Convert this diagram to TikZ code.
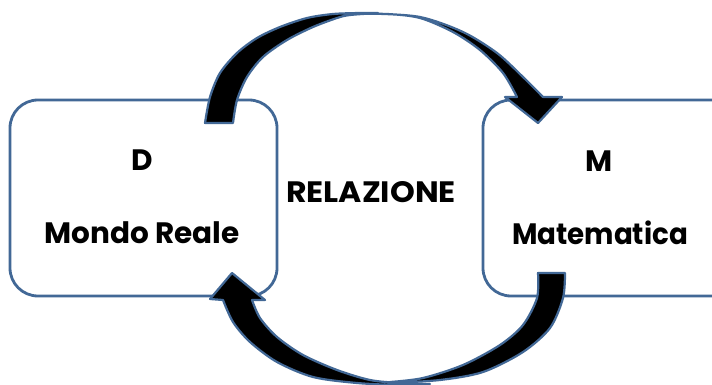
\documentclass[tikz,border=0pt]{standalone}
\usepackage{fontspec}
\setmainfont{Poppins}
\definecolor{bord}{RGB}{66,104,150}
\tikzset{
  box/.style={draw=bord, line width=2.8pt, rounded corners=28pt, fill=white},
  lbl/.style={font=\fontsize{29.5}{31}\selectfont\bfseries, text=black, inner sep=0pt, anchor=center},
  bigarrow/.style={fill=black, draw=bord, line width=2.2pt, line join=round}
}
\begin{document}
\begin{tikzpicture}[x=1pt,y=-1pt]
\useasboundingbox (0,0) rectangle (712,385);
\clip (0,0) rectangle (712,385);
\fill[white] (0,0) rectangle (712,385);
% boxes
\draw[box] (10,100) rectangle (277,296);
\node[inner sep=0pt, minimum width=267pt, minimum height=196pt] (L) at (143.5,198) {};
\draw[box] (483,100) rectangle (740,296);
\node[inner sep=0pt, minimum width=257pt, minimum height=196pt] (R) at (611.5,198) {};
% top arrow
\draw[bigarrow] plot[smooth] coordinates {(205,123) (210,97) (220,73) (237,53) (257,38) (280,27) (307,18) (333,14) (360,13) (378,13)}
  -- plot[smooth] coordinates {(378,13) (350,15) (337,18) (313,27) (287,40) (263,57) (247,77) (237,100) (233,123)} -- cycle;
\draw[bigarrow] plot[smooth] coordinates {(345,14) (370,13.5) (420,17) (463,32) (497,53) (523,77) (543,97)}
  -- (562,97) -- (538,123) -- (505,97)
  -- plot[smooth] coordinates {(517,97) (503,73) (480,50) (453,32) (420,18) (387,14) (345,14)} -- cycle;
% bottom arrow
\draw[bigarrow] plot[smooth] coordinates {(538,273) (537,298) (523,325) (500,345) (463,365) (423,378) (390,382)}
  -- plot[smooth] coordinates {(390,383) (440,380) (483,372) (523,352) (550,328) (563,298) (565,273)} -- cycle;
\draw[bigarrow] plot[smooth] coordinates {(430,384) (400,385) (357,383) (313,377) (277,362) (250,342) (233,322) (223,300)}
  -- (210,299) -- (232,273) -- (265,300)
  -- plot[smooth] coordinates {(252,300) (260,318) (277,337) (303,355) (337,370) (370,380) (400,383) (430,384)} -- cycle;
% texts
\node[lbl] (d) at (142,160) {D};
\node[lbl] (dr) at (142,233) {Mondo Reale};
\node[lbl] (m) at (599,161) {M};
\node[lbl, xscale=0.94] (mm) at (600,233) {Matematica};
\node[lbl, xscale=1.07] (rel) at (371,192) {RELAZIONE};
\end{tikzpicture}
\end{document}
